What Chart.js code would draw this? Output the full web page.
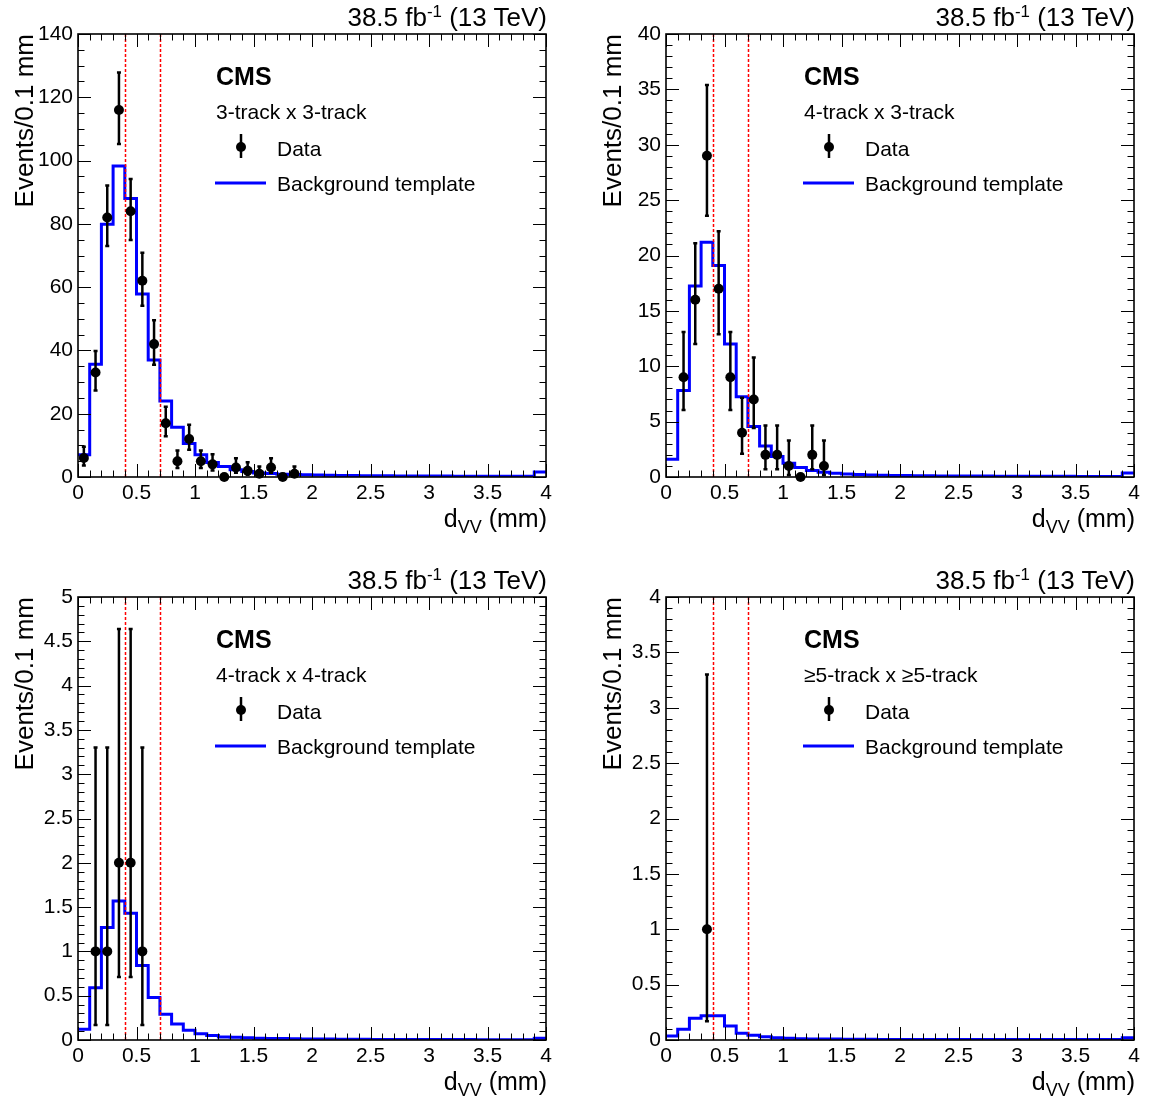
<!DOCTYPE html>
<html>
<head>
<meta charset="utf-8">
<script src="https://cdn.jsdelivr.net/npm/chart.js@4.4.1/dist/chart.umd.min.js"></script>
<style>
  body{margin:0;background:#fff;width:1149px;height:1102px;position:relative;overflow:hidden;font-family:"Liberation Sans",Arial,sans-serif;color:#000}
  canvas{position:absolute}
  .txt{position:absolute;white-space:nowrap;line-height:1}
  .txt sup{font-size:0.65em;vertical-align:0.55em;line-height:0}
  .txt sub{font-size:0.72em;vertical-align:-0.35em;line-height:0}
</style>
</head>
<body>
<script>
// --- Data ---
const binWidth = 0.1;          // 40 bins from 0 to 4 mm
const cutLines = [0.4, 0.7];   // red dashed lines

const panelLabels = ['3-track x 3-track','4-track x 3-track','4-track x 4-track','\u22655-track x \u22655-track'];
const yMaxes   = [140, 40, 5, 4];
const yMajors  = [20, 5, 0.5, 0.5];
const yMinors  = [5, 1, 0.1, 0.1];

// background template, one value per bin
const bkg3x3 = [7.0,35.6,79.9,98.3,88.0,57.8,37.0,24.0,15.7,10.6,7.0,4.6,3.3,2.3,1.7,1.3,1.1,0.9,0.8,0.7,
                0.6,0.55,0.5,0.45,0.42,0.4,0.37,0.35,0.33,0.31,0.3,0.28,0.27,0.26,0.25,0.24,0.23,0.22,0.22,1.6];
const bkg4x3 = [1.6,7.8,17.25,21.2,19.1,12.0,7.25,4.55,2.8,1.85,1.25,0.85,0.58,0.42,0.33,0.27,0.22,0.19,0.16,0.14,
                0.13,0.12,0.11,0.1,0.09,0.09,0.08,0.08,0.07,0.07,0.07,0.06,0.06,0.06,0.06,0.05,0.05,0.05,0.05,0.35];
const bkg4x4 = [0.12,0.59,1.27,1.57,1.43,0.84,0.48,0.29,0.18,0.11,0.07,0.05,0.035,0.03,0.025,0.02,0.018,0.016,0.014,0.012,
                0.011,0.01,0.009,0.008,0.008,0.007,0.007,0.006,0.006,0.006,0.005,0.005,0.005,0.005,0.004,0.004,0.004,0.004,0.004,0.02];
const bkg5x5 = [0.036,0.097,0.196,0.22,0.22,0.126,0.06,0.042,0.03,0.02,0.015,0.012,0.01,0.009,0.008,0.007,0.006,0.006,0.005,0.005,
                0.005,0.004,0.004,0.004,0.004,0.004,0.004,0.004,0.004,0.004,0.004,0.004,0.004,0.004,0.004,0.004,0.004,0.004,0.004,0.02];

// observed events (bin centres), with Poisson interval ends
const data3x3X  = [0.05,0.15,0.25,0.35,0.45,0.55,0.65,0.75,0.85,0.95,1.05,1.15,1.25,1.35,1.45,1.55,1.65,1.75,1.85];
const data3x3N  = [6,33,82,116,84,62,42,17,5,12,5,4,0,3,2,1,3,0,1];
const data3x3Lo = [3.62,27.3,73.0,105.2,74.9,54.1,35.5,12.9,2.84,8.59,2.84,2.09,0,1.37,0.71,0.17,1.37,0,0.17];
const data3x3Hi = [9.58,39.8,92.1,127.8,94.2,70.9,49.5,22.2,8.38,16.5,8.38,7.16,0,5.92,4.64,3.30,5.92,0,3.30];

const data4x3X  = [0.15,0.25,0.35,0.45,0.55,0.65,0.75,0.85,0.95,1.05,1.15,1.25,1.35];
const data4x3N  = [9,16,29,17,9,4,7,2,2,1,0,2,1];
const data4x3Lo = [6.06,12.0,23.6,12.9,6.06,2.09,4.42,0.71,0.71,0.17,0,0.71,0.17];
const data4x3Hi = [13.1,21.1,35.4,22.2,13.1,7.16,10.8,4.64,4.64,3.30,0,4.64,3.30];

const data4x4X  = [0.15,0.25,0.35,0.45,0.55];
const data4x4N  = [1,1,2,2,1];
const data4x4Lo = [0.17,0.17,0.71,0.71,0.17];
const data4x4Hi = [3.30,3.30,4.64,4.64,3.30];

const data5x5X  = [0.35];
const data5x5N  = [1];
const data5x5Lo = [0.17];
const data5x5Hi = [3.30];

const bkgs  = [bkg3x3, bkg4x3, bkg4x4, bkg5x5];
const dataX = [data3x3X, data4x3X, data4x4X, data5x5X];
const dataN = [data3x3N, data4x3N, data4x4N, data5x5N];
const dataLo= [data3x3Lo, data4x3Lo, data4x4Lo, data5x5Lo];
const dataHi= [data3x3Hi, data4x3Hi, data4x4Hi, data5x5Hi];

// --- Layout ---
const FONT = '"Liberation Sans", Arial, sans-serif';
// canvas box and plot frame (page px)
const panes = [
  {cx:0,   cy:0,   w:574, h:551, pl:78,  pt:34,  pr:546,  pb:477},
  {cx:574, cy:0,   w:575, h:551, pl:666, pt:34,  pr:1134, pb:477},
  {cx:0,   cy:551, w:574, h:551, pl:78,  pt:597, pr:546,  pb:1040},
  {cx:574, cy:551, w:575, h:551, pl:666, pt:597, pr:1134, pb:1040}
];

function addText(html, css){
  const d = document.createElement('div');
  d.className = 'txt';
  d.innerHTML = html;
  Object.assign(d.style, css);
  document.body.appendChild(d);
  return d;
}

function stepPoints(vals){
  const pts = [];
  vals.forEach((v,i)=>{ pts.push({x:i*binWidth, y:v}, {x:(i+1)*binWidth, y:v}); });
  return pts;
}

const fmt = v => String(Math.round(v*100)/100);

// --- Frame, ticks, cut lines, error bars, legend symbols ---
const rootStyle = {
  id:'rootStyle',
  afterDatasetDraw(chart, args, opts){
    if(args.index !== 1) return; // right after the histogram, before the markers
    const {ctx, chartArea:a, scales:{x,y}} = chart;
    ctx.save();
    ctx.strokeStyle = '#ff0000'; ctx.lineWidth = 1.5; ctx.setLineDash([3,2]);
    cutLines.forEach(v=>{
      const px = Math.round(x.getPixelForValue(v)) + 0.5;
      ctx.beginPath(); ctx.moveTo(px, a.top); ctx.lineTo(px, a.bottom); ctx.stroke();
    });
    ctx.setLineDash([]);
    ctx.strokeStyle = '#000'; ctx.lineWidth = 2.5;
    opts.xs.forEach((xv,i)=>{
      if(opts.hi[i] <= 0) return;
      const px = x.getPixelForValue(xv), y1 = y.getPixelForValue(opts.lo[i]), y2 = y.getPixelForValue(opts.hi[i]);
      ctx.beginPath();
      ctx.moveTo(px, y1); ctx.lineTo(px, y2);
      ctx.moveTo(px-2, y1); ctx.lineTo(px+2, y1);
      ctx.moveTo(px-2, y2); ctx.lineTo(px+2, y2);
      ctx.stroke();
    });
    ctx.restore();
  },
  afterDraw(chart, args, opts){
    const {ctx, chartArea:a, scales:{x,y}} = chart;
    ctx.save();
    ctx.strokeStyle = '#000'; ctx.lineWidth = 1;
    const big = 13, small = 6.5;
    // x ticks every 0.1, labelled ones every 0.5
    for(let i=0;i<=40;i++){
      const px = Math.round(x.getPixelForValue(i*binWidth)) + 0.5;
      const len = i%5===0 ? big : small;
      ctx.beginPath();
      ctx.moveTo(px, a.bottom); ctx.lineTo(px, a.bottom-len);
      ctx.moveTo(px, a.top); ctx.lineTo(px, a.top+len);
      ctx.stroke();
    }
    const per = Math.round(opts.major/opts.minor), n = Math.round(opts.max/opts.minor);
    for(let i=0;i<=n;i++){
      const py = Math.round(y.getPixelForValue(i*opts.minor)) + 0.5;
      const len = i%per===0 ? big : small;
      ctx.beginPath();
      ctx.moveTo(a.left, py); ctx.lineTo(a.left+len, py);
      ctx.moveTo(a.right, py); ctx.lineTo(a.right-len, py);
      ctx.stroke();
    }
    ctx.lineWidth = 1.6;
    ctx.strokeRect(a.left, a.top, a.right-a.left, a.bottom-a.top);
    // legend symbols
    ctx.lineWidth = 2.5;
    ctx.beginPath(); ctx.moveTo(a.left+163, a.top+100); ctx.lineTo(a.left+163, a.top+124); ctx.stroke();
    ctx.fillStyle = '#000';
    ctx.beginPath(); ctx.arc(a.left+163, a.top+113, 5, 0, Math.PI*2); ctx.fill();
    ctx.strokeStyle = '#0000ff'; ctx.lineWidth = 3;
    ctx.beginPath(); ctx.moveTo(a.left+137, a.top+149); ctx.lineTo(a.left+188, a.top+149); ctx.stroke();
    ctx.restore();
  }
};

// --- Build the four panels ---
panes.forEach((p, k)=>{
  const cv = document.createElement('canvas');
  cv.width = p.w; cv.height = p.h;
  cv.style.left = p.cx+'px'; cv.style.top = p.cy+'px';
  document.body.appendChild(cv);

  const leftSpace = p.pl - p.cx, topPad = p.pt - p.cy;
  const rightPad = p.cx + p.w - p.pr, bottomSpace = p.cy + p.h - p.pb;

  new Chart(cv, {
    type:'scatter',
    data:{datasets:[
      {type:'scatter', data:dataX[k].map((xv,i)=>({x:xv, y:dataN[k][i]})),
       pointRadius:5, pointBackgroundColor:'#000', pointBorderWidth:0, clip:false},
      {type:'line', data:stepPoints(bkgs[k]), borderColor:'#0000ff', borderWidth:3,
       pointRadius:0, fill:false, tension:0, borderJoinStyle:'miter'}
    ]},
    options:{
      responsive:false, animation:false, devicePixelRatio:1,
      layout:{padding:{left:0, top:topPad, right:rightPad, bottom:0}},
      plugins:{legend:{display:false}, tooltip:{enabled:false},
        rootStyle:{xs:dataX[k], lo:dataLo[k], hi:dataHi[k], max:yMaxes[k], major:yMajors[k], minor:yMinors[k]}},
      scales:{
        x:{type:'linear', min:0, max:4, afterFit(s){ s.height = bottomSpace; },
           grid:{display:false, drawTicks:false}, border:{display:false},
           ticks:{stepSize:0.5, maxRotation:0, autoSkip:false, padding:4, color:'#000',
                  font:{family:FONT, size:21}, callback:fmt}},
        y:{type:'linear', min:0, max:yMaxes[k], afterFit(s){ s.width = leftSpace; },
           grid:{display:false, drawTicks:false}, border:{display:false},
           ticks:{stepSize:yMajors[k], autoSkip:false, padding:5, color:'#000',
                  font:{family:FONT, size:21}, callback:fmt}}
      }
    },
    plugins:[rootStyle]
  });

  // texts
  addText('38.5 fb<sup>-1</sup> (13 TeV)', {right:(1149-p.pr-1)+'px', top:(p.pt-27-3)+'px', fontSize:'26px'});
  addText('d<sub>VV</sub> (mm)', {right:(1149-p.pr-1)+'px', top:(p.pb+32-3)+'px', fontSize:'25px'});
  addText('Events/0.1 mm', {left:'0px', top:'0px', width:'300px', textAlign:'right', fontSize:'26px',
    transformOrigin:'0 0', transform:`translate(${p.pl-67}px, ${p.pt+300}px) rotate(-90deg)`});
  addText('CMS', {left:(p.pl+138)+'px', top:(p.pt+33-3)+'px', fontSize:'25px', fontWeight:'bold'});
  addText(panelLabels[k], {left:(p.pl+138)+'px', top:(p.pt+70-3)+'px', fontSize:'21px'});
  addText('Data', {left:(p.pl+199)+'px', top:(p.pt+107-3)+'px', fontSize:'21px'});
  addText('Background template', {left:(p.pl+199)+'px', top:(p.pt+142-3)+'px', fontSize:'21px'});
});
</script>
</body>
</html>
